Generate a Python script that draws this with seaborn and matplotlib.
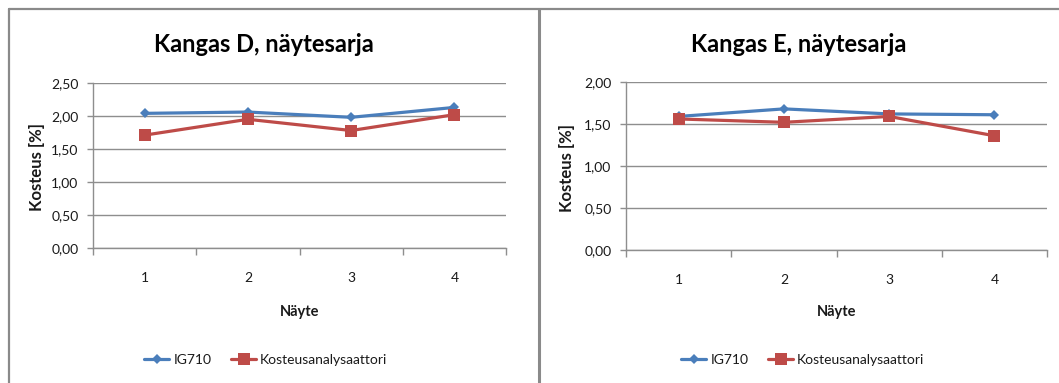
import matplotlib
matplotlib.use("Agg")
import matplotlib.pyplot as plt
from matplotlib.lines import Line2D
from matplotlib.ticker import FixedLocator, FuncFormatter
import seaborn as sns
import pandas as pd

# Sample numbers and measured moisture (%) for two fabrics
samples = ["1", "2", "3", "4"]
series_names = ["IG710", "Kosteusanalysaattori"]

fabric_d_ig710 = [2.04, 2.06, 1.98, 2.13]
fabric_d_analyzer = [1.71, 1.95, 1.78, 2.02]

fabric_e_ig710 = [1.59, 1.68, 1.62, 1.61]
fabric_e_analyzer = [1.56, 1.52, 1.59, 1.36]

titles = ["Kangas D, näytesarja", "Kangas E, näytesarja"]
y_ticks_d = [0.0, 0.5, 1.0, 1.5, 2.0, 2.5]
y_ticks_e = [0.0, 0.5, 1.0, 1.5, 2.0]
x_label = "Näyte"
y_label = "Kosteus [%]"

sns.set_theme(style="white")
plt.rcParams["font.family"] = ["Lato", "DejaVu Sans"]

BLUE = "#4a7ebb"
RED = "#be4b48"
GRID = "#8e8e8e"
TEXT = "#1a1a1a"

W, H = 1059, 383
fig = plt.figure(figsize=(W / 100, H / 100), dpi=100)
fig.patch.set_facecolor("white")


def px_axes(x0, x1, y_top, y_bot):
    return fig.add_axes([x0 / W, 1 - y_bot / H, (x1 - x0) / W, (y_bot - y_top) / H])


panels = [
    dict(box=(93, 506, 83, 248), ig=fabric_d_ig710, an=fabric_d_analyzer,
         ticks=y_ticks_d, title=titles[0], title_x=264, leg_x=266, ylab_x=37),
    dict(box=(626, 1047, 82, 250), ig=fabric_e_ig710, an=fabric_e_analyzer,
         ticks=y_ticks_e, title=titles[1], title_x=799, leg_x=803, ylab_x=567),
]

for p in panels:
    x0, x1, yt, yb = p["box"]
    ax = px_axes(x0, x1, yt, yb)
    df = pd.DataFrame({
        "Näyte": samples * 2,
        "Kosteus": p["ig"] + p["an"],
        "Sarja": [series_names[0]] * 4 + [series_names[1]] * 4,
    })
    styles = {
        series_names[0]: dict(color=BLUE, marker="D", markersize=5.6),
        series_names[1]: dict(color=RED, marker="s", markersize=8.2),
    }
    for name in series_names:
        sub = df[df["Sarja"] == name]
        st = styles[name]
        sns.pointplot(data=sub, x="Näyte", y="Kosteus", order=samples,
                      color=st["color"], marker=st["marker"],
                      markersize=st["markersize"], linewidth=2.3,
                      markeredgewidth=0, label=name, ax=ax, errorbar=None)

    ax.set_xlim(-0.5, 3.5)
    ax.set_ylim(p["ticks"][0], p["ticks"][-1])
    ax.yaxis.set_major_locator(FixedLocator(p["ticks"]))
    ax.yaxis.set_major_formatter(FuncFormatter(lambda v, _: f"{v:.2f}".replace(".", ",")))
    ax.set_axisbelow(True)
    ax.grid(axis="y", color=GRID, linewidth=1.0)
    ax.grid(axis="x", visible=False)

    for side in ["top", "right"]:
        ax.spines[side].set_visible(False)
    for side in ["left", "bottom"]:
        ax.spines[side].set_color(GRID)
        ax.spines[side].set_linewidth(1.0)

    # category boundaries carry the tick marks, labels sit on the centres
    ax.xaxis.set_minor_locator(FixedLocator([-0.5, 0.5, 1.5, 2.5, 3.5]))
    ax.tick_params(axis="x", which="minor", bottom=True, length=5, width=1, color=GRID)
    ax.tick_params(axis="x", which="major", bottom=True, length=0, pad=17,
                   labelsize=10, labelcolor=TEXT)
    ax.tick_params(axis="y", left=True, length=4.5, width=1, color=GRID, pad=6,
                   labelsize=10, labelcolor=TEXT)

    ax.set_xlabel(x_label, fontsize=10.5, fontweight="bold", color=TEXT)
    ax.xaxis.label.set_va("center")
    ax.xaxis.set_label_coords(0.5, (yb - 312) / (yb - yt))
    ax.set_ylabel(y_label, fontsize=12, fontweight="bold", color=TEXT)
    ax.yaxis.label.set_va("center")
    ax.yaxis.set_label_coords((p["ylab_x"] - x0) / (x1 - x0), 0.49)

    fig.text(p["title_x"] / W, 1 - 44 / H, p["title"], ha="center", va="center",
             fontsize=17, fontweight="bold", color="black")

    handles, labels = ax.get_legend_handles_labels()
    if ax.get_legend() is not None:
        ax.get_legend().remove()
    fig.legend(handles, labels, loc="center", ncol=2,
               bbox_to_anchor=(p["leg_x"] / W, 1 - 360 / H),
               frameon=False, fontsize=10, handlelength=1.8,
               handletextpad=0.3, columnspacing=1.4,
               labelcolor=TEXT)

# chart-area borders
frame = dict(color="#8a8a8a", transform=fig.transFigure)
fig.add_artist(Line2D([9 / W, 1], [1 - 9 / H, 1 - 9 / H], linewidth=1.6, **frame))
fig.add_artist(Line2D([9 / W, 9 / W], [0, 1 - 9 / H], linewidth=1.6, **frame))
fig.add_artist(Line2D([539 / W, 539 / W], [0, 1 - 9 / H], linewidth=2.2, **frame))

fig.savefig("out.png", dpi=100, facecolor="white")
